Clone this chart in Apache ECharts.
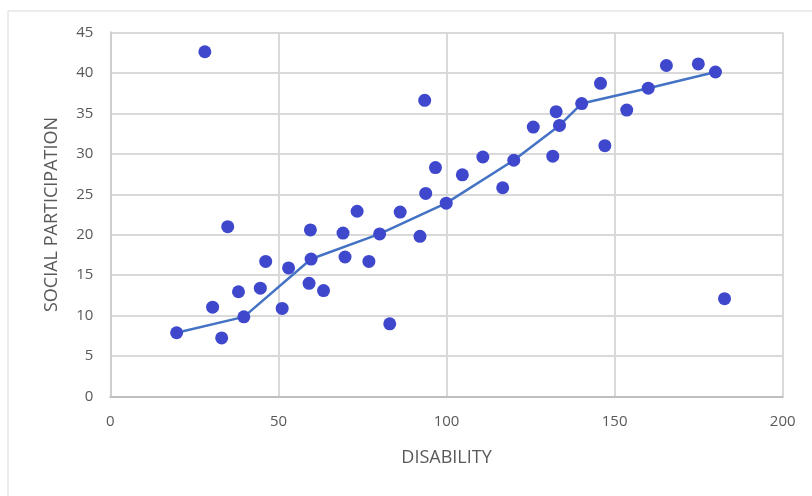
<!DOCTYPE html>
<html><head><meta charset="utf-8">
<script src="https://cdn.jsdelivr.net/npm/echarts@6/dist/echarts.min.js"></script>
<style>html,body{margin:0;padding:0;background:#fff}#c{width:812px;height:496px}</style>
</head><body><div id="c"></div>
<script>
const disability = [28.1,93.5,19.7,30.4,33.1,34.9,38.1,39.7,44.6,46.2,51.1,53.0,59.1,59.5,59.7,63.4,69.2,69.8,73.4,76.9,80.1,83.1,86.2,92.1,93.8,96.7,99.9,104.7,110.8,116.7,120.0,125.8,131.6,132.6,133.6,140.2,145.8,147.1,153.6,160.0,165.4,174.9,180.0,182.7];
const participation = [42.6,36.6,7.9,11.06,7.26,21.0,12.96,9.86,13.4,16.7,10.9,15.9,14.0,20.6,17.0,13.1,20.2,17.25,22.9,16.7,20.1,9.0,22.8,19.8,25.1,28.3,23.9,27.4,29.6,25.8,29.2,33.3,29.7,35.2,33.5,36.2,38.7,31.0,35.4,38.1,40.9,41.1,40.1,12.1];
const lineX = [19.7,39.7,59.7,80.1,99.9,120.0,133.6,140.2,160.0,180.0];
const lineY = [7.9,9.86,17.0,20.1,23.9,29.2,33.5,36.2,38.1,40.1];
const xTitle = 'DISABILITY';
const yTitle = 'SOCIAL PARTICIPATION';

const chart = echarts.init(document.getElementById('c'), null, {renderer:'canvas'});
const font = '"Open Sans", "Noto Sans", sans-serif';
chart.setOption({
  animation:false,
  backgroundColor:'#fff',
  graphic:[{type:'rect',shape:{x:8,y:11,width:820,height:500},style:{fill:'none',stroke:'#d9d9d9',lineWidth:1}}],
  grid:{left:110.4,right:29.3,top:32.3,bottom:99.3},
  xAxis:{type:'value',min:0,max:200,interval:50,
    name:xTitle,nameLocation:'middle',nameGap:52,
    nameTextStyle:{color:'#595959',fontSize:18,fontFamily:font},
    axisLine:{show:true,lineStyle:{color:'#bfbfbf',width:2}},
    axisTick:{show:false},
    axisLabel:{color:'#595959',fontSize:15,fontFamily:font,margin:18},
    splitLine:{show:true,lineStyle:{color:'#d9d9d9',width:2}}},
  yAxis:{type:'value',min:0,max:45,interval:5,
    name:yTitle,nameLocation:'middle',nameGap:50,nameRotate:90,
    nameTextStyle:{color:'#595959',fontSize:18,fontFamily:font},
    axisLine:{show:true,lineStyle:{color:'#cfcfcf',width:2}},
    axisTick:{show:false},
    axisLabel:{color:'#595959',fontSize:15,fontFamily:font,margin:17},
    splitLine:{show:true,lineStyle:{color:'#d9d9d9',width:2}}},
  series:[
    {type:'line',data:lineX.map((x,i)=>[x,lineY[i]]),symbol:'none',
     lineStyle:{color:'#4472c4',width:2.5},z:2},
    {type:'scatter',data:disability.map((x,i)=>[x,participation[i]]),symbol:'circle',symbolSize:13,
     itemStyle:{color:'#3f48cc',opacity:1},z:3}
  ]
});
</script></body></html>
